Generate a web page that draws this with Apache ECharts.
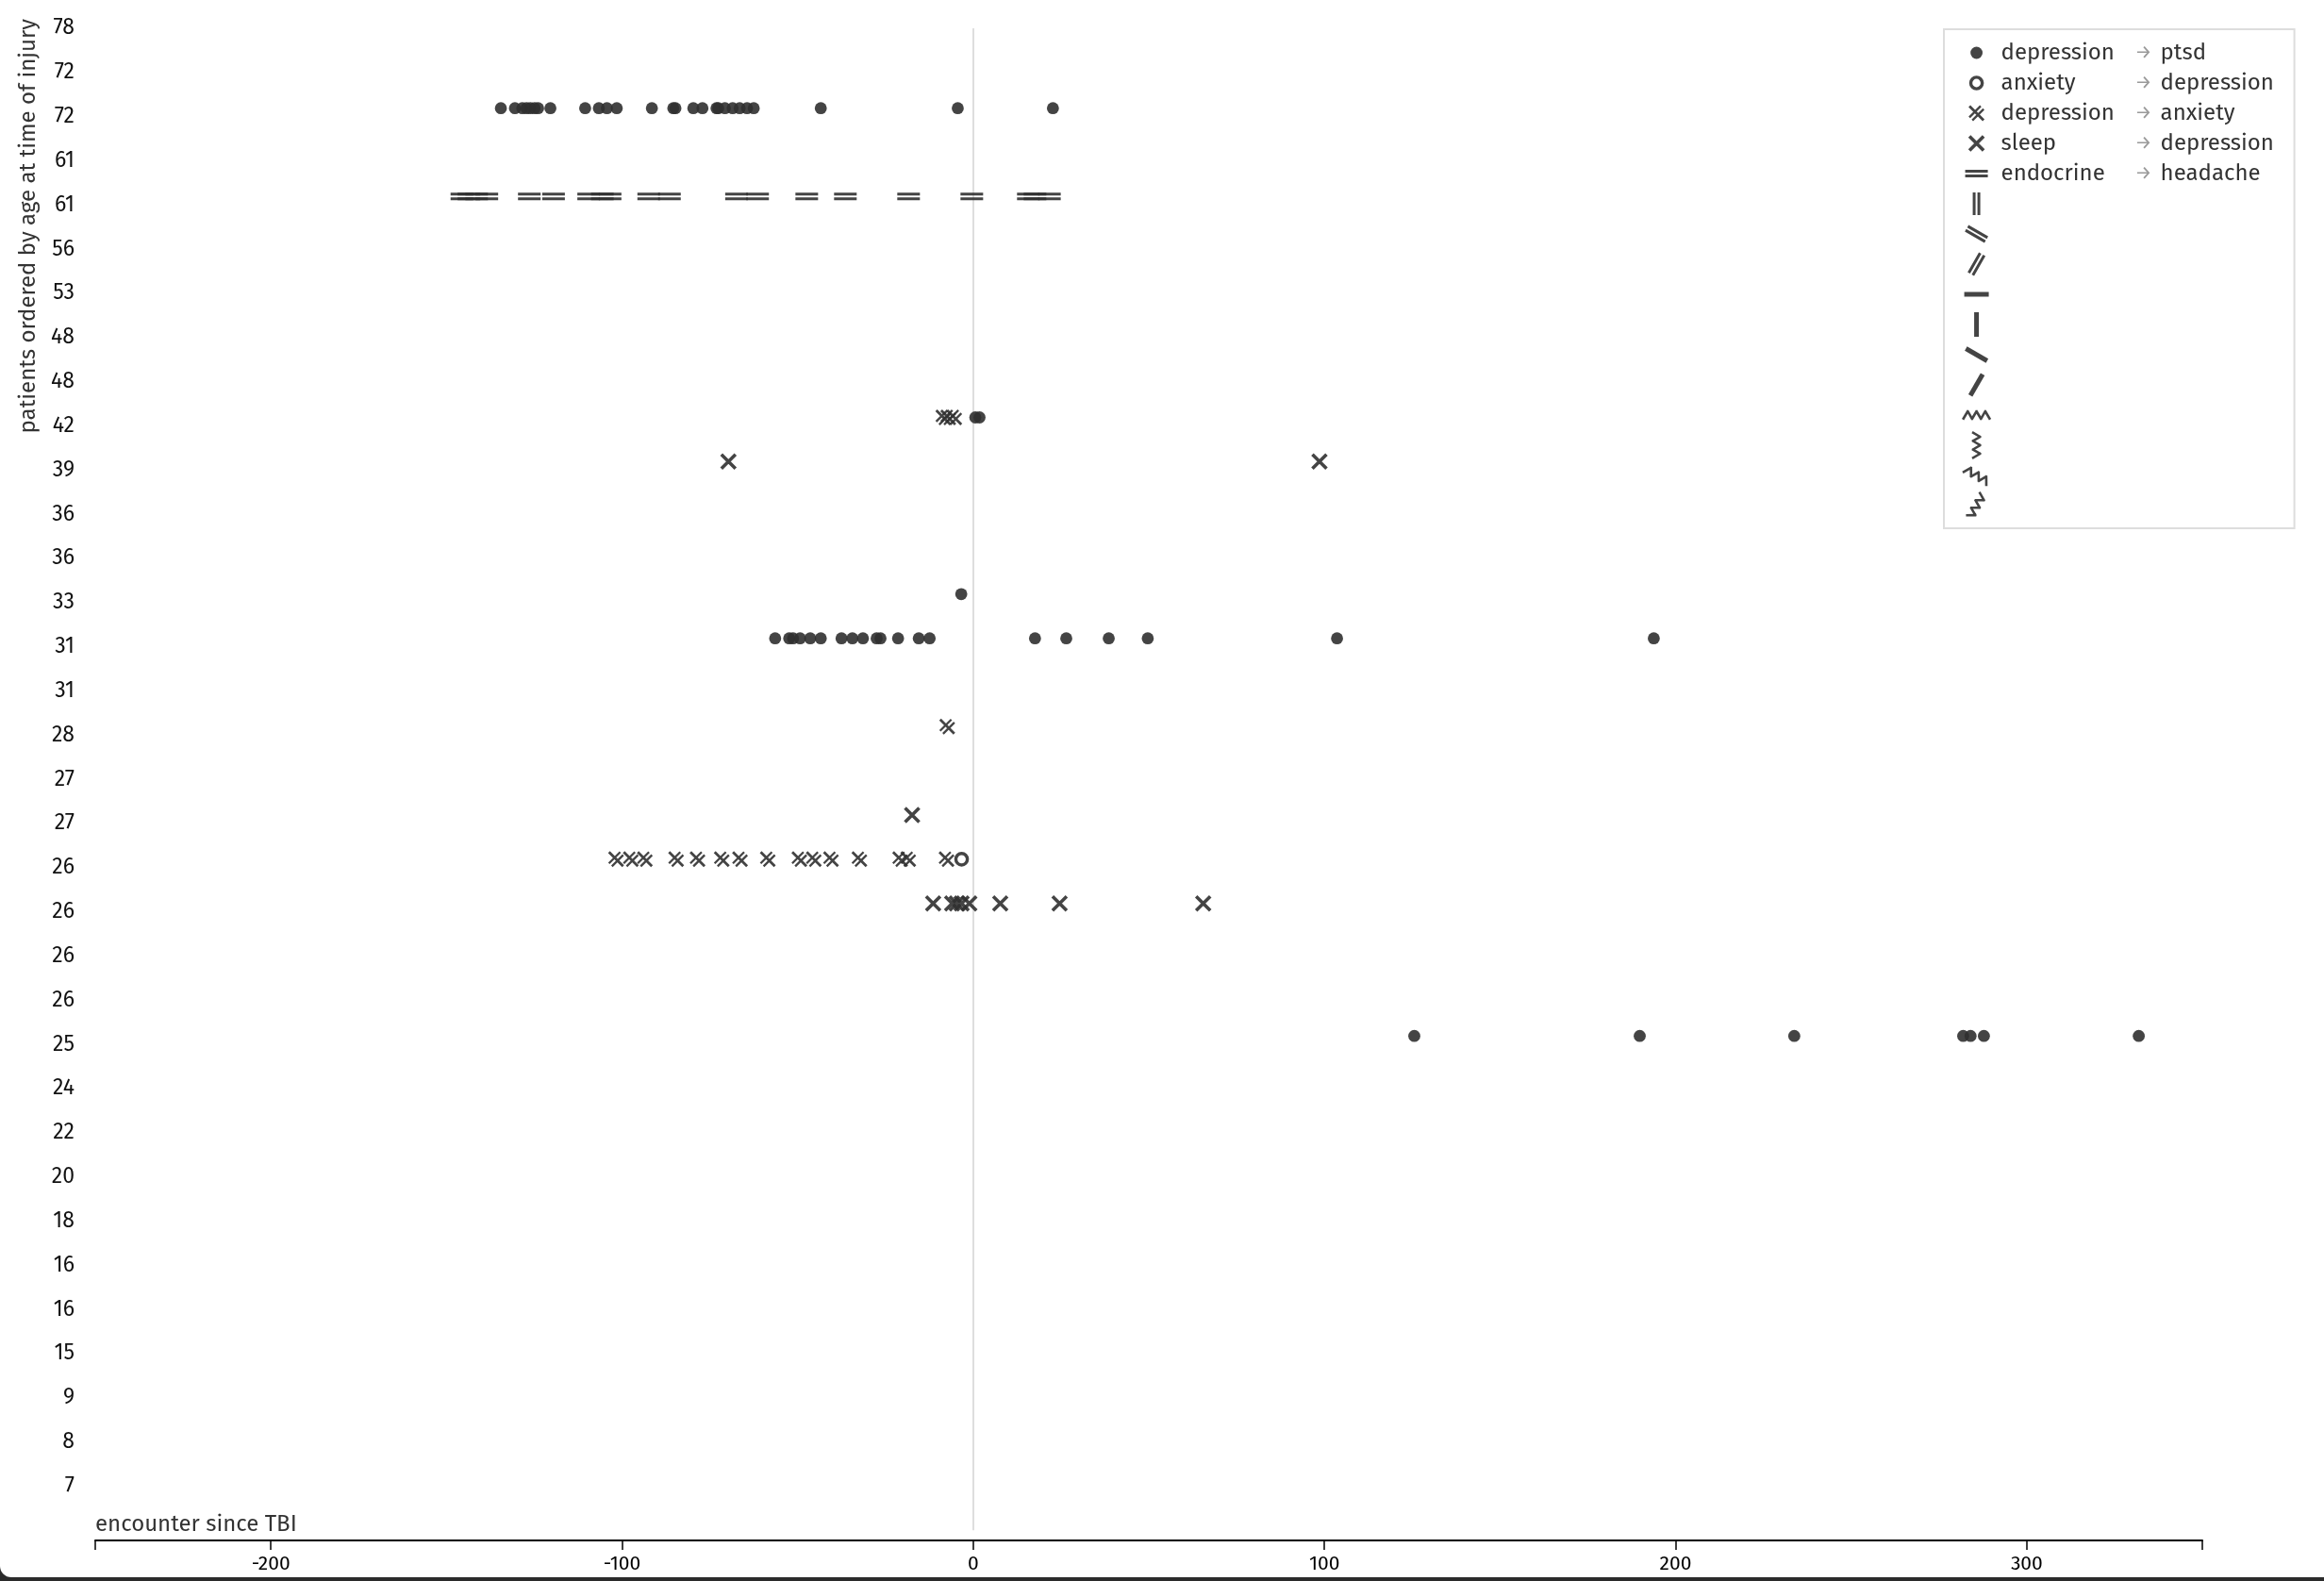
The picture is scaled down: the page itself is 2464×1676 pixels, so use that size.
<!DOCTYPE html>
<html>
<head>
<meta charset="utf-8">
<script src="https://cdn.jsdelivr.net/npm/echarts@6/dist/echarts.min.js"></script>
<style>
html, body { margin: 0; padding: 0; background: #fff; }
#chart { width: 2464px; height: 1676px; }
</style>
</head>
<body>
<div id="chart"></div>
<script>
// ---------- tick labels ----------
const rowLabels = ['78','72','72','61','61','56','53','48','48','42','39','36','36','33','31','31','28','27','27','26','26','26','26','25','24','22','20','18','16','16','15','9','8','7'];
const xTickValues = [-250, -200, -100, 0, 100, 200, 300, 350];
const xLabelValues = [-200, -100, 0, 100, 200, 300];

// ---------- legend categories ----------
const fromCodes = ['depression', 'anxiety', 'depression', 'sleep', 'endocrine'];
const toCodes = ['ptsd', 'depression', 'anxiety', 'depression', 'headache'];

// ---------- series values: patient row index -> encounter days since TBI ----------
const depressionToPtsd = [
  { row: 2, days: [-134.5, -130.5, -128.4, -127.2, -126.1, -124.9, -123.9, -120.4, -110.5, -106.6, -104.3, -101.5, -91.5, -85.4, -84.8, -79.7, -77.1, -73.1, -72.6, -70.7, -68.5, -66.5, -64.4, -62.5, -43.4, -4.4, 22.7] },
  { row: 9, days: [0.6, 1.8] },
  { row: 13, days: [-3.4] },
  { row: 14, days: [-56.4, -52.4, -51.3, -49.3, -46.4, -43.4, -37.5, -34.4, -31.4, -27.5, -26.4, -21.4, -15.5, -12.4, 17.6, 26.5, 38.6, 49.7, 103.6, 193.8] },
  { row: 23, days: [125.6, 189.8, 233.8, 281.9, 284.0, 287.8, 331.9] }
];
const anxietyToDepression = [
  { row: 19, days: [-3.3] }
];
const depressionToAnxiety = [
  { row: 9, days: [-8.5, -7.1, -5.4] },
  { row: 16, days: [-7.4] },
  { row: 19, days: [-101.7, -97.5, -93.5, -84.6, -78.5, -71.6, -66.4, -58.5, -49.5, -45.4, -40.5, -32.4, -20.8, -18.5, -7.6] }
];
const sleepToDepression = [
  { row: 10, days: [-69.7, 98.6] },
  { row: 18, days: [-17.4] },
  { row: 20, days: [-11.4, -6.0, -4.7, -3.3, -1.1, 7.7, 24.6, 65.5] }
];
const endocrineToHeadache = [
  { row: 4, days: [-145.6, -143.6, -141.4, -138.5, -126.4, -119.5, -109.5, -105.6, -103.4, -92.4, -86.5, -67.4, -61.4, -47.4, -36.4, -18.4, -0.4, 15.7, 17.6, 21.7] }
];

// ---------- symbol shapes (drawn in a 30x30 frame) ----------
const FRAME = 'M0,0M30,30';
function barPath(a, b, t) {
  const dx = b[0] - a[0], dy = b[1] - a[1], L = Math.hypot(dx, dy);
  const nx = -dy / L * t / 2, ny = dx / L * t / 2;
  let pts = [[a[0] + nx, a[1] + ny], [b[0] + nx, b[1] + ny], [b[0] - nx, b[1] - ny], [a[0] - nx, a[1] - ny]];
  let area = 0;
  for (let i = 0; i < 4; i++) { const p = pts[i], q = pts[(i + 1) % 4]; area += p[0] * q[1] - q[0] * p[1]; }
  if (area < 0) pts = pts.reverse();
  return 'M' + pts.map(p => p[0].toFixed(2) + ',' + p[1].toFixed(2)).join('L') + 'Z';
}
function rot(p, deg) {
  const r = deg * Math.PI / 180, c = Math.cos(r), s = Math.sin(r);
  return [15 + p[0] * c - p[1] * s, 15 + p[0] * s + p[1] * c];
}
function shape(segs, t, deg, ext) {
  ext = ext || 0;
  return FRAME + segs.map(sg => {
    let a = sg[0], b = sg[1];
    if (ext) {
      const dx = b[0] - a[0], dy = b[1] - a[1], L = Math.hypot(dx, dy);
      a = [a[0] - dx / L * ext, a[1] - dy / L * ext];
      b = [b[0] + dx / L * ext, b[1] + dy / L * ext];
    }
    return barPath(rot(a, deg), rot(b, deg), t);
  }).join('');
}
const circleSym = 'path://' + FRAME + 'M8.6,15A6.4,6.4,0,1,1,21.4,15A6.4,6.4,0,1,1,8.6,15Z';
const ringSym = 'path://' + FRAME + 'M7.2,15A7.8,7.8,0,1,0,22.8,15A7.8,7.8,0,1,0,7.2,15Z' + 'M10.6,15A4.4,4.4,0,1,1,19.4,15A4.4,4.4,0,1,1,10.6,15Z';
const crossSym = 'path://' + shape([[[-7.5, -7.5], [7.5, 7.5]], [[7.5, -7.5], [-7.5, 7.5]]], 3.6, 0);
const depAnxSym = 'path://' + FRAME +
  barPath(rot([-7.5, -7.5], 0), rot([7.5, 7.5], 0), 2.8) +
  barPath(rot([-7.6, 4.4], 0), rot([4.4, -7.6], 0), 2.3) +
  barPath(rot([-4.4, 7.6], 0), rot([7.6, -4.4], 0), 2.3);
const eqSegs = [[[-12, -2.5], [12, -2.5]], [[-12, 2.5], [12, 2.5]]];
const thickSegs = [[[-13, 0], [13, 0]]];
const zigPts = [[-14, 4], [-9.3, -4], [-4.7, 4], [0, -4], [4.7, 4], [9.3, -4], [14, 4]];
const zigSegs = zigPts.slice(1).map((p, i) => [zigPts[i], p]);
const symbolList = [
  circleSym, ringSym, depAnxSym, crossSym,
  'path://' + shape(eqSegs, 3, 0),
  'path://' + shape(eqSegs, 3, 90),
  'path://' + shape(eqSegs, 3, 30),
  'path://' + shape(eqSegs, 3, 120),
  'path://' + shape(thickSegs, 5, 0),
  'path://' + shape(thickSegs, 5, 90),
  'path://' + shape(thickSegs, 5, 30),
  'path://' + shape(thickSegs, 5, 120),
  'path://' + shape(zigSegs, 2.6, 0, 0.9),
  'path://' + shape(zigSegs, 2.6, 90, 0.9),
  'path://' + shape(zigSegs, 2.6, 30, 0.9),
  'path://' + shape(zigSegs, 2.6, 120, 0.9)
];
// series -> symbol index
const seriesValues = [depressionToPtsd, anxietyToDepression, depressionToAnxiety, sleepToDepression, endocrineToHeadache];
const seriesSymbolIndex = [0, 1, 2, 3, 4];

const FONT = '"Fira Sans", "Open Sans", "Noto Sans", sans-serif';
const MARK_COLOR = '#303030';

function flatten(rows) {
  const out = [];
  rows.forEach(r => r.days.forEach(d => out.push([d, r.row])));
  return out;
}

const seriesNames = fromCodes.map((f, i) => f + ' → ' + toCodes[i]);
const series = seriesValues.map((vals, i) => ({
  name: seriesNames[i],
  type: 'scatter',
  data: flatten(vals),
  symbol: symbolList[seriesSymbolIndex[i]],
  symbolSize: 30,
  symbolKeepAspect: true,
  itemStyle: { color: MARK_COLOR, opacity: 0.9 },
  z: 3
}));
// extra legend-only symbols (unused codes)
const legendNames = seriesNames.slice();
for (let k = 5; k < symbolList.length; k++) {
  const nm = 'unused symbol ' + k;
  legendNames.push(nm);
  series.push({ name: nm, type: 'scatter', data: [], symbol: symbolList[k], symbolSize: 30, symbolKeepAspect: true, itemStyle: { color: MARK_COLOR, opacity: 0.9 } });
}
// zero reference line
series[0].markLine = {
  z: 1, silent: true, symbol: ['none', 'none'], label: { show: false },
  lineStyle: { color: '#dedede', width: 2, type: 'solid' },
  data: [[{ coord: [0, 0.19] }, { coord: [0, 34.19] }]]
};

const chart = echarts.init(document.getElementById('chart'), null, { renderer: 'canvas' });
chart.setOption({
  animation: false,
  backgroundColor: 'transparent',
  grid: { left: 101, right: 129, top: 21, bottom: 43, containLabel: false },
  xAxis: {
    type: 'value', min: -250, max: 350,
    axisLine: { show: true, onZero: false, lineStyle: { color: '#000', width: 2 } },
    axisTick: { show: true, customValues: xTickValues, length: 10, lineStyle: { color: '#000', width: 1.5 } },
    axisLabel: { customValues: xLabelValues, color: '#000', fontSize: 21, margin: 15, fontFamily: FONT },
    splitLine: { show: false }
  },
  yAxis: {
    type: 'value', inverse: true, min: 0, max: 34.42, interval: 1,
    axisLine: { show: false }, axisTick: { show: false }, splitLine: { show: false },
    axisLabel: {
      formatter: v => (rowLabels[v] !== undefined ? rowLabels[v] : ''),
      color: '#111', fontSize: 23, margin: 22, verticalAlign: 'top', lineHeight: 18, fontFamily: FONT
    }
  },
  legend: {
    orient: 'vertical', left: 2061, top: 31,
    padding: [10, 20, 9, 19],
    itemWidth: 42, itemHeight: 30, itemGap: 2,
    symbolKeepAspect: true,
    selectedMode: false,
    borderColor: '#dddddd', borderWidth: 2, backgroundColor: '#fff',
    data: legendNames.map((n, i) => ({ name: n, icon: symbolList[i] })),
    formatter: name => {
      const i = seriesNames.indexOf(name);
      if (i < 0) return '';
      return '{a|' + fromCodes[i] + '}{r|→}{b|' + toCodes[i] + '}';
    },
    textStyle: {
      fontSize: 24, color: '#333', fontFamily: FONT, lineHeight: 30,
      rich: {
        a: { width: 142, fontSize: 24, color: '#333', fontFamily: FONT, lineHeight: 30 },
        r: { width: 27, fontSize: 20, color: '#9a9a9a', fontFamily: FONT, lineHeight: 30 },
        b: { width: 122, fontSize: 24, color: '#333', fontFamily: FONT, lineHeight: 30 }
      }
    }
  },
  graphic: [
    { type: 'rect', z: -100, silent: true, shape: { x: 0, y: 1650, width: 2464, height: 26 }, style: { fill: '#2b2b2b' } },
    { type: 'rect', z: -99, silent: true, shape: { x: 0, y: 0, width: 2464, height: 1672, r: [0, 0, 0, 12] }, style: { fill: '#fff' } },
    { type: 'text', x: 30, y: 20, rotation: Math.PI / 2, silent: true,
      style: { text: 'patients ordered by age at time of injury', align: 'right', verticalAlign: 'middle', fontSize: 24, fontFamily: FONT, fill: '#333' } },
    { type: 'text', x: 101, y: 1616, silent: true,
      style: { text: 'encounter since TBI', align: 'left', verticalAlign: 'middle', fontSize: 24, fontFamily: FONT, fill: '#333' } }
  ],
  series: series
});
</script>
</body>
</html>
